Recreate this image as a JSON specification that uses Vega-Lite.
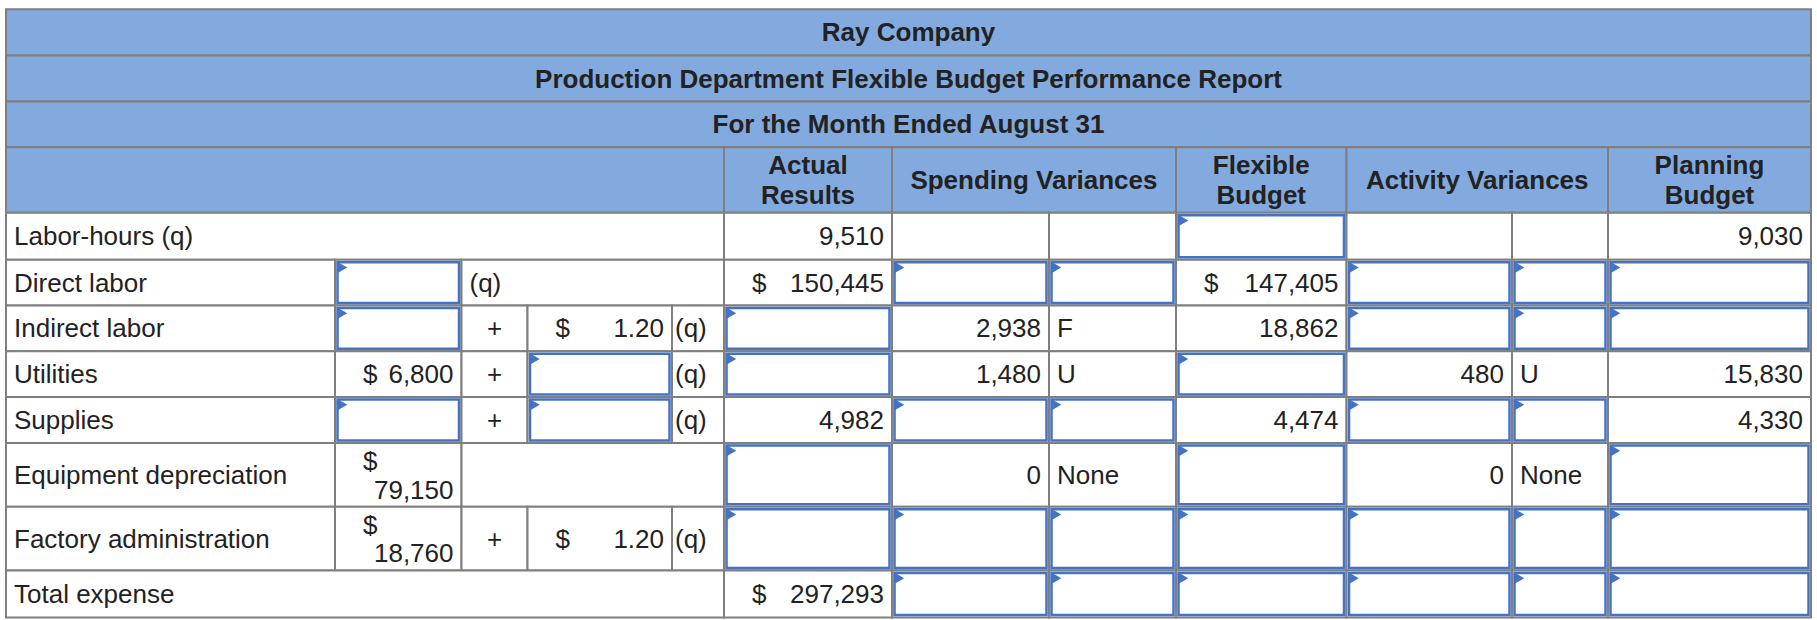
{
  "$schema": "https://vega.github.io/schema/vega-lite/v6.json",
  "width": 1817,
  "height": 620,
  "padding": 0,
  "autosize": {"type": "none"},
  "background": "#ffffff",
  "config": {"view": {"stroke": null}, "text": {"font": "Liberation Sans", "fontSize": 26, "color": "#222222", "baseline": "middle"}},
  "datasets": {
    "cells": [
      {"r":0,"r1":1,"c0":0,"c1":12},{"r":1,"r1":2,"c0":0,"c1":12},{"r":2,"r1":3,"c0":0,"c1":12},
      {"r":3,"r1":4,"c0":0,"c1":5},{"r":3,"r1":4,"c0":5,"c1":6},{"r":3,"r1":4,"c0":6,"c1":8},{"r":3,"r1":4,"c0":8,"c1":9},{"r":3,"r1":4,"c0":9,"c1":11},{"r":3,"r1":4,"c0":11,"c1":12},
      {"r":4,"r1":5,"c0":0,"c1":5},{"r":4,"r1":5,"c0":5,"c1":6},{"r":4,"r1":5,"c0":6,"c1":7},{"r":4,"r1":5,"c0":7,"c1":8},{"r":4,"r1":5,"c0":8,"c1":9},{"r":4,"r1":5,"c0":9,"c1":10},{"r":4,"r1":5,"c0":10,"c1":11},{"r":4,"r1":5,"c0":11,"c1":12},
      {"r":5,"r1":6,"c0":0,"c1":1},{"r":5,"r1":6,"c0":1,"c1":2},{"r":5,"r1":6,"c0":2,"c1":5},{"r":5,"r1":6,"c0":5,"c1":6},{"r":5,"r1":6,"c0":6,"c1":7},{"r":5,"r1":6,"c0":7,"c1":8},{"r":5,"r1":6,"c0":8,"c1":9},{"r":5,"r1":6,"c0":9,"c1":10},{"r":5,"r1":6,"c0":10,"c1":11},{"r":5,"r1":6,"c0":11,"c1":12},
      {"r":6,"r1":7,"c0":0,"c1":1},{"r":6,"r1":7,"c0":1,"c1":2},{"r":6,"r1":7,"c0":2,"c1":3},{"r":6,"r1":7,"c0":3,"c1":4},{"r":6,"r1":7,"c0":4,"c1":5},{"r":6,"r1":7,"c0":5,"c1":6},{"r":6,"r1":7,"c0":6,"c1":7},{"r":6,"r1":7,"c0":7,"c1":8},{"r":6,"r1":7,"c0":8,"c1":9},{"r":6,"r1":7,"c0":9,"c1":10},{"r":6,"r1":7,"c0":10,"c1":11},{"r":6,"r1":7,"c0":11,"c1":12},
      {"r":7,"r1":8,"c0":0,"c1":1},{"r":7,"r1":8,"c0":1,"c1":2},{"r":7,"r1":8,"c0":2,"c1":3},{"r":7,"r1":8,"c0":3,"c1":4},{"r":7,"r1":8,"c0":4,"c1":5},{"r":7,"r1":8,"c0":5,"c1":6},{"r":7,"r1":8,"c0":6,"c1":7},{"r":7,"r1":8,"c0":7,"c1":8},{"r":7,"r1":8,"c0":8,"c1":9},{"r":7,"r1":8,"c0":9,"c1":10},{"r":7,"r1":8,"c0":10,"c1":11},{"r":7,"r1":8,"c0":11,"c1":12},
      {"r":8,"r1":9,"c0":0,"c1":1},{"r":8,"r1":9,"c0":1,"c1":2},{"r":8,"r1":9,"c0":2,"c1":3},{"r":8,"r1":9,"c0":3,"c1":4},{"r":8,"r1":9,"c0":4,"c1":5},{"r":8,"r1":9,"c0":5,"c1":6},{"r":8,"r1":9,"c0":6,"c1":7},{"r":8,"r1":9,"c0":7,"c1":8},{"r":8,"r1":9,"c0":8,"c1":9},{"r":8,"r1":9,"c0":9,"c1":10},{"r":8,"r1":9,"c0":10,"c1":11},{"r":8,"r1":9,"c0":11,"c1":12},
      {"r":9,"r1":10,"c0":0,"c1":1},{"r":9,"r1":10,"c0":1,"c1":2},{"r":9,"r1":10,"c0":2,"c1":5},{"r":9,"r1":10,"c0":5,"c1":6},{"r":9,"r1":10,"c0":6,"c1":7},{"r":9,"r1":10,"c0":7,"c1":8},{"r":9,"r1":10,"c0":8,"c1":9},{"r":9,"r1":10,"c0":9,"c1":10},{"r":9,"r1":10,"c0":10,"c1":11},{"r":9,"r1":10,"c0":11,"c1":12},
      {"r":10,"r1":11,"c0":0,"c1":1},{"r":10,"r1":11,"c0":1,"c1":2},{"r":10,"r1":11,"c0":2,"c1":3},{"r":10,"r1":11,"c0":3,"c1":4},{"r":10,"r1":11,"c0":4,"c1":5},{"r":10,"r1":11,"c0":5,"c1":6},{"r":10,"r1":11,"c0":6,"c1":7},{"r":10,"r1":11,"c0":7,"c1":8},{"r":10,"r1":11,"c0":8,"c1":9},{"r":10,"r1":11,"c0":9,"c1":10},{"r":10,"r1":11,"c0":10,"c1":11},{"r":10,"r1":11,"c0":11,"c1":12},
      {"r":11,"r1":12,"c0":0,"c1":5},{"r":11,"r1":12,"c0":5,"c1":6},{"r":11,"r1":12,"c0":6,"c1":7},{"r":11,"r1":12,"c0":7,"c1":8},{"r":11,"r1":12,"c0":8,"c1":9},{"r":11,"r1":12,"c0":9,"c1":10},{"r":11,"r1":12,"c0":10,"c1":11},{"r":11,"r1":12,"c0":11,"c1":12}
    ],
    "inputs": [
      {"r":4,"r1":5,"c0":8,"c1":9},
      {"r":5,"r1":6,"c0":1,"c1":2},{"r":5,"r1":6,"c0":6,"c1":7},{"r":5,"r1":6,"c0":7,"c1":8},{"r":5,"r1":6,"c0":9,"c1":10},{"r":5,"r1":6,"c0":10,"c1":11},{"r":5,"r1":6,"c0":11,"c1":12},
      {"r":6,"r1":7,"c0":1,"c1":2},{"r":6,"r1":7,"c0":5,"c1":6},{"r":6,"r1":7,"c0":9,"c1":10},{"r":6,"r1":7,"c0":10,"c1":11},{"r":6,"r1":7,"c0":11,"c1":12},
      {"r":7,"r1":8,"c0":3,"c1":4},{"r":7,"r1":8,"c0":5,"c1":6},{"r":7,"r1":8,"c0":8,"c1":9},
      {"r":8,"r1":9,"c0":1,"c1":2},{"r":8,"r1":9,"c0":3,"c1":4},{"r":8,"r1":9,"c0":6,"c1":7},{"r":8,"r1":9,"c0":7,"c1":8},{"r":8,"r1":9,"c0":9,"c1":10},{"r":8,"r1":9,"c0":10,"c1":11},
      {"r":9,"r1":10,"c0":5,"c1":6},{"r":9,"r1":10,"c0":8,"c1":9},{"r":9,"r1":10,"c0":11,"c1":12},
      {"r":10,"r1":11,"c0":5,"c1":6},{"r":10,"r1":11,"c0":6,"c1":7},{"r":10,"r1":11,"c0":7,"c1":8},{"r":10,"r1":11,"c0":8,"c1":9},{"r":10,"r1":11,"c0":9,"c1":10},{"r":10,"r1":11,"c0":10,"c1":11},{"r":10,"r1":11,"c0":11,"c1":12},
      {"r":11,"r1":12,"c0":6,"c1":7},{"r":11,"r1":12,"c0":7,"c1":8},{"r":11,"r1":12,"c0":8,"c1":9},{"r":11,"r1":12,"c0":9,"c1":10},{"r":11,"r1":12,"c0":10,"c1":11},{"r":11,"r1":12,"c0":11,"c1":12}
    ],
    "texts": [
      {"y":0.5,"x":6.105,"t":"Ray Company","role":"hdr"},
      {"y":1.5,"x":6.105,"t":"Production Department Flexible Budget Performance Report","role":"hdr"},
      {"y":2.5,"x":6.105,"t":"For the Month Ended August 31","role":"hdr"},
      {"y":3.264,"x":5.5,"t":"Actual","role":"hdr"},
      {"y":3.724,"x":5.5,"t":"Results","role":"hdr"},
      {"y":3.5,"x":6.904,"t":"Spending Variances","role":"hdr"},
      {"y":3.264,"x":8.5,"t":"Flexible","role":"hdr"},
      {"y":3.724,"x":8.5,"t":"Budget","role":"hdr"},
      {"y":3.5,"x":9.79,"t":"Activity Variances","role":"hdr"},
      {"y":3.264,"x":11.5,"t":"Planning","role":"hdr"},
      {"y":3.724,"x":11.5,"t":"Budget","role":"hdr"},
      {"y":4.5,"x":0,"t":"Labor-hours (q)","role":"lbl"},
      {"y":4.5,"x":6,"t":"9,510","role":"num"},
      {"y":4.5,"x":12,"t":"9,030","role":"num"},
      {"y":5.5,"x":0,"t":"Direct labor","role":"lbl"},
      {"y":5.5,"x":2,"t":"(q)","role":"lbl"},
      {"y":5.5,"x":5,"t":"$","role":"dol"},
      {"y":5.5,"x":6,"t":"150,445","role":"num"},
      {"y":5.5,"x":8,"t":"$","role":"dol"},
      {"y":5.5,"x":9,"t":"147,405","role":"num"},
      {"y":6.5,"x":0,"t":"Indirect labor","role":"lbl"},
      {"y":6.5,"x":2.5,"t":"+","role":"ctr"},
      {"y":6.5,"x":3,"t":"$","role":"dol"},
      {"y":6.5,"x":4,"t":"1.20","role":"num"},
      {"y":6.5,"x":4,"t":"(q)","role":"ql"},
      {"y":6.5,"x":7,"t":"2,938","role":"num"},
      {"y":6.5,"x":7,"t":"F","role":"lbl"},
      {"y":6.5,"x":9,"t":"18,862","role":"num"},
      {"y":7.5,"x":0,"t":"Utilities","role":"lbl"},
      {"y":7.5,"x":1,"t":"$","role":"dol"},
      {"y":7.5,"x":2,"t":"6,800","role":"num"},
      {"y":7.5,"x":2.5,"t":"+","role":"ctr"},
      {"y":7.5,"x":4,"t":"(q)","role":"ql"},
      {"y":7.5,"x":7,"t":"1,480","role":"num"},
      {"y":7.5,"x":7,"t":"U","role":"lbl"},
      {"y":7.5,"x":10,"t":"480","role":"num"},
      {"y":7.5,"x":10,"t":"U","role":"lbl"},
      {"y":7.5,"x":12,"t":"15,830","role":"num"},
      {"y":8.5,"x":0,"t":"Supplies","role":"lbl"},
      {"y":8.5,"x":2.5,"t":"+","role":"ctr"},
      {"y":8.5,"x":4,"t":"(q)","role":"ql"},
      {"y":8.5,"x":6,"t":"4,982","role":"num"},
      {"y":8.5,"x":9,"t":"4,474","role":"num"},
      {"y":8.5,"x":12,"t":"4,330","role":"num"},
      {"y":9.5,"x":0,"t":"Equipment depreciation","role":"lbl"},
      {"y":9.28,"x":1,"t":"$","role":"dol"},
      {"y":9.73,"x":2,"t":"79,150","role":"num"},
      {"y":9.5,"x":7,"t":"0","role":"num"},
      {"y":9.5,"x":7,"t":"None","role":"lbl"},
      {"y":9.5,"x":10,"t":"0","role":"num"},
      {"y":9.5,"x":10,"t":"None","role":"lbl"},
      {"y":10.5,"x":0,"t":"Factory administration","role":"lbl"},
      {"y":10.29,"x":1,"t":"$","role":"dol"},
      {"y":10.72,"x":2,"t":"18,760","role":"num"},
      {"y":10.5,"x":2.5,"t":"+","role":"ctr"},
      {"y":10.5,"x":3,"t":"$","role":"dol"},
      {"y":10.5,"x":4,"t":"1.20","role":"num"},
      {"y":10.5,"x":4,"t":"(q)","role":"ql"},
      {"y":11.5,"x":0,"t":"Total expense","role":"lbl"},
      {"y":11.5,"x":5,"t":"$","role":"dol"},
      {"y":11.5,"x":6,"t":"297,293","role":"num"}
    ]
  },
  "layer": [
    {
      "data": {"name": "cells"},
      "mark": {"type": "rect", "stroke": "#7f7f7f", "strokeWidth": 2},
      "encoding": {
        "x": {"field": "c0", "type": "quantitative", "axis": null, "scale": {"domain": [0,1,2,3,4,5,6,7,8,9,10,11,12], "range": [6,335,461.5,527.5,672,724,892,1049,1176,1346.5,1512,1608,1811], "nice": false, "zero": false}},
        "x2": {"field": "c1"},
        "y": {"field": "r", "type": "quantitative", "axis": null, "scale": {"domain": [0,1,2,3,4,5,6,7,8,9,10,11,12], "range": [9.3,55.6,101.4,147.2,212.8,259.8,305.5,351.3,397,443,506.7,570.5,617.6], "nice": false, "zero": false}},
        "y2": {"field": "r1"},
        "fill": {"condition": {"test": "datum.r < 4", "value": "#83AADF"}, "value": "#ffffff"}
      }
    },
    {
      "data": {"name": "inputs"},
      "mark": {"type": "rect", "fill": "#ffffff", "stroke": "#4472C4", "strokeWidth": 2.5, "xOffset": 2.5, "x2Offset": -2.5, "yOffset": 2.5, "y2Offset": -2.5},
      "encoding": {
        "x": {"field": "c0", "type": "quantitative", "axis": null},
        "x2": {"field": "c1"},
        "y": {"field": "r", "type": "quantitative", "axis": null},
        "y2": {"field": "r1"}
      }
    },
    {
      "data": {"name": "inputs"},
      "mark": {"type": "point", "shape": "triangle-right", "filled": true, "size": 121, "color": "#4472C4", "opacity": 1, "strokeWidth": 0, "xOffset": 7.5, "yOffset": 7.7},
      "encoding": {
        "x": {"field": "c0", "type": "quantitative", "axis": null},
        "y": {"field": "r", "type": "quantitative", "axis": null}
      }
    },
    {
      "data": {"name": "texts"},
      "transform": [{"filter": "datum.role == 'hdr'"}],
      "mark": {"type": "text", "align": "center", "fontWeight": "bold", "dy": 1},
      "encoding": {
        "x": {"field": "x", "type": "quantitative", "axis": null},
        "y": {"field": "y", "type": "quantitative", "axis": null},
        "text": {"field": "t"}
      }
    },
    {
      "data": {"name": "texts"},
      "transform": [{"filter": "datum.role == 'lbl'"}],
      "mark": {"type": "text", "align": "left", "dx": 8, "dy": 1},
      "encoding": {
        "x": {"field": "x", "type": "quantitative", "axis": null},
        "y": {"field": "y", "type": "quantitative", "axis": null},
        "text": {"field": "t"}
      }
    },
    {
      "data": {"name": "texts"},
      "transform": [{"filter": "datum.role == 'num'"}],
      "mark": {"type": "text", "align": "right", "dx": -8, "dy": 1},
      "encoding": {
        "x": {"field": "x", "type": "quantitative", "axis": null},
        "y": {"field": "y", "type": "quantitative", "axis": null},
        "text": {"field": "t"}
      }
    },
    {
      "data": {"name": "texts"},
      "transform": [{"filter": "datum.role == 'dol'"}],
      "mark": {"type": "text", "align": "left", "dx": 28, "dy": 1},
      "encoding": {
        "x": {"field": "x", "type": "quantitative", "axis": null},
        "y": {"field": "y", "type": "quantitative", "axis": null},
        "text": {"field": "t"}
      }
    },
    {
      "data": {"name": "texts"},
      "transform": [{"filter": "datum.role == 'ctr'"}],
      "mark": {"type": "text", "align": "center", "dy": 1},
      "encoding": {
        "x": {"field": "x", "type": "quantitative", "axis": null},
        "y": {"field": "y", "type": "quantitative", "axis": null},
        "text": {"field": "t"}
      }
    },
    {
      "data": {"name": "texts"},
      "transform": [{"filter": "datum.role == 'ql'"}],
      "mark": {"type": "text", "align": "left", "dx": 3, "dy": 1},
      "encoding": {
        "x": {"field": "x", "type": "quantitative", "axis": null},
        "y": {"field": "y", "type": "quantitative", "axis": null},
        "text": {"field": "t"}
      }
    }
  ]
}
